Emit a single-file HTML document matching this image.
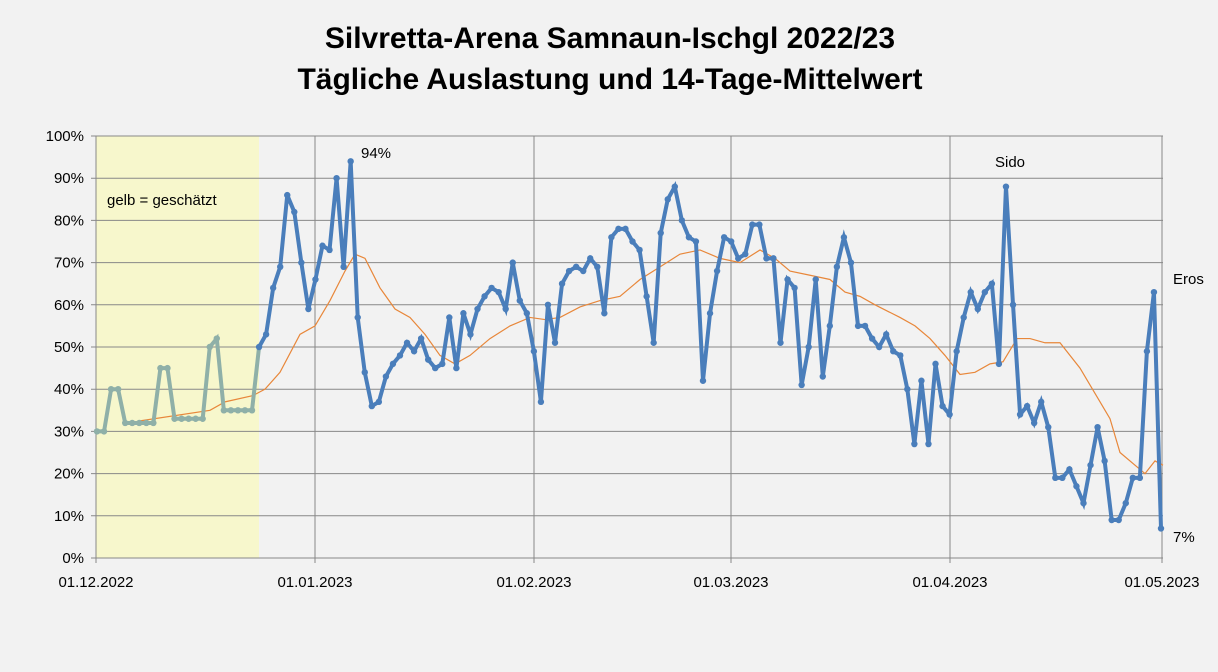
<!DOCTYPE html>
<html><head><meta charset="utf-8"><style>
body{margin:0;background:#f2f2f2;}
svg{display:block;font-family:"Liberation Sans",sans-serif;}
</style></head><body>
<svg id="s" width="1218" height="672" viewBox="0 0 1218 672" xmlns="http://www.w3.org/2000/svg">
<rect width="1218" height="672" fill="#f2f2f2"/>
<text x="610" y="48" font-size="30" font-weight="bold" text-anchor="middle" fill="#000">Silvretta-Arena Samnaun-Ischgl 2022/23</text>
<text x="610" y="89" font-size="30" font-weight="bold" text-anchor="middle" fill="#000">Tägliche Auslastung und 14-Tage-Mittelwert</text>
<rect x="96" y="136" width="163" height="422" fill="#f7f7cc"/>
<g id="grid" stroke="#888" stroke-width="1"></g>
<g id="lab" font-size="15" fill="#000"></g>
<text x="107" y="205" font-size="15">gelb = geschätzt</text>
<text x="361" y="158" font-size="15">94%</text>
<text x="995" y="167" font-size="15">Sido</text>
<text x="1173" y="284" font-size="15">Eros</text>
<text x="1173" y="542" font-size="15">7%</text>
<polyline id="ma" fill="none" stroke="#e8873a" stroke-width="1.2"/>
<polyline id="gl" fill="none" stroke="#8fb0a8" stroke-width="4"/>
<polyline id="bl" fill="none" stroke="#4a7ebb" stroke-width="4"/>
<g id="dots"></g>
</svg>
<script>
var ns="http://www.w3.org/2000/svg";
function Y(p){return 558-p*4.22;}
function el(t,a,par){var e=document.createElementNS(ns,t);for(var k in a)e.setAttribute(k,a[k]);document.getElementById(par).appendChild(e);return e;}
for(var i=0;i<=10;i++){var y=Y(i*10);el('line',{x1:91,x2:1163,y1:y,y2:y},'grid');var t=el('text',{x:84,y:y+5,'text-anchor':'end'},'lab');t.textContent=(i*10)+'%';}
var mx=[96,315,534,731,950,1162],ml=['01.12.2022','01.01.2023','01.02.2023','01.03.2023','01.04.2023','01.05.2023'];
for(var i=0;i<mx.length;i++){el('line',{x1:mx[i],x2:mx[i],y1:136,y2:563},'grid');var t=el('text',{x:mx[i],y:587,'text-anchor':'middle'},'lab');t.textContent=ml[i];}
var g=[30,30,40,40,32,32,32,32,32,45,45,33,33,33,33,33,50,52,35,35,35,35,35];
var b=[50,53,64,69,86,82,70,59,66,74,73,90,69,94,57,44,36,37,43,46,48,51,49,52,47,45,46,57,45,58,53,59,62,64,63,59,70,61,58,49,37,60,51,65,68,69,68,71,69,58,76,78,78,75,73,62,51,77,85,88,80,76,75,42,58,68,76,75,71,72,79,79,71,71,51,66,64,41,50,66,43,55,69,76,70,55,55,52,50,53,49,48,40,27,42,27,46,36,34,49,57,63,59,63,65,46,88,60,34,36,32,37,31,19,19,21,17,13,22,31,23,9,9,13,19,19,49,63,7];
var all=g.concat(b),N=all.length,st=(1161-97)/(N-1);
function X(i){return 97+i*st;}
var gp=[],bp=[];
for(var i=0;i<g.length;i++)gp.push(X(i)+','+Y(g[i]));
for(var i=g.length-1;i<N;i++)bp.push(X(i)+','+Y(all[i]));
gp.push(X(g.length)+','+Y(b[0]));
document.getElementById('gl').setAttribute('points',gp.join(' '));
document.getElementById('bl').setAttribute('points',bp.slice(1).join(' '));
for(var i=0;i<N;i++)el('circle',{cx:X(i),cy:Y(all[i]),r:3.2,fill:i<g.length?'#8fb0a8':'#4a7ebb'},'dots');
var ma=[[140,32.5],[210,35],[225,37],[253,38.5],[265,40],[280,44],[300,53],[315,55],[330,61],[345,68],[355,72],[365,71],[380,64],[395,59],[410,57],[425,53],[440,48],[455,46],[470,48],[490,52],[510,55],[530,57],[545,56.5],[560,57],[580,59.5],[600,61],[620,62],[640,66],[660,69],[680,72],[700,73],[720,71],[740,70],[760,73],[775,71],[790,68],[810,67],[830,66],[845,63],[860,62],[875,60],[900,57],[915,55],[930,52],[945,48],[960,43.5],[975,44],[990,46],[1003,46.5],[1017,52],[1030,52],[1045,51],[1060,51],[1080,45],[1100,37],[1110,33],[1120,25],[1135,22],[1145,20],[1155,23],[1163,22]];
document.getElementById('ma').setAttribute('points',ma.map(function(p){return p[0]+','+Y(p[1]);}).join(' '));
</script>
</body></html>
